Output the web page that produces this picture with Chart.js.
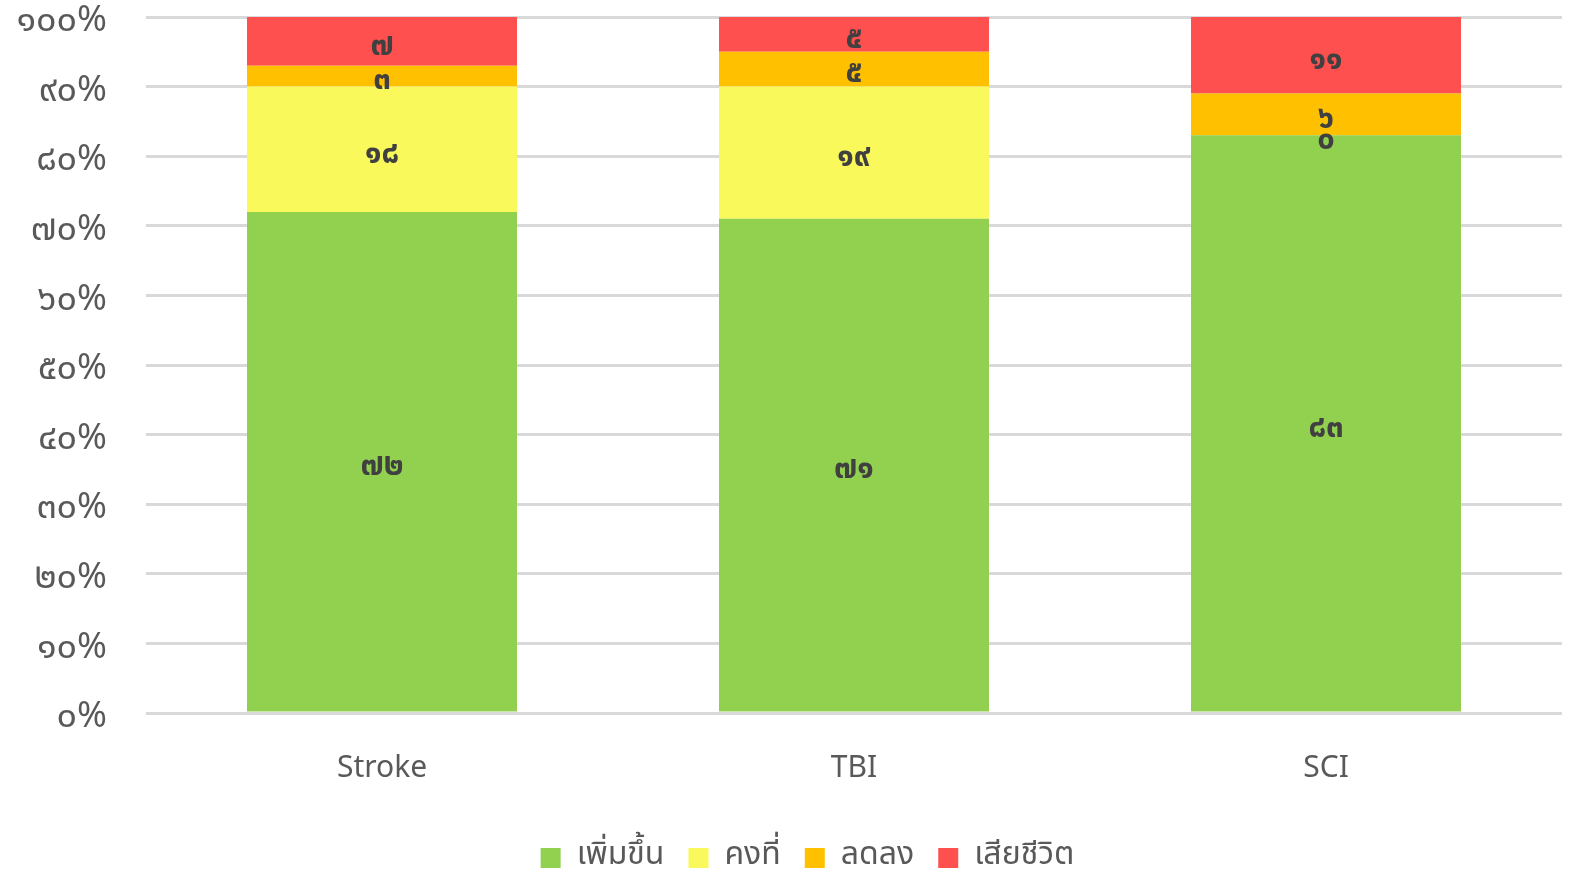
<!DOCTYPE html>
<html>
<head>
<meta charset="utf-8">
<script src="https://cdn.jsdelivr.net/npm/chart.js@4/dist/chart.umd.min.js"></script>
<style>
  html, body { margin: 0; padding: 0; background: #ffffff; }
  #wrap { width: 1574px; height: 874px; position: relative; }
</style>
</head>
<body>
<div id="wrap"><canvas id="c" width="1574" height="874"></canvas></div>
<script>
// Patient groups
const categories = ['Stroke', 'TBI', 'SCI'];

// Outcome series (percent of each group)
const seriesNames = ['เพิ่มขึ้น', 'คงที่', 'ลดลง', 'เสียชีวิต'];
const increased = [72, 71, 83];
const stable    = [18, 19, 0];
const decreased = [3, 5, 6];
const died      = [7, 5, 11];
const seriesColors = ['#92d050', '#f9f95b', '#ffc000', '#ff5050'];

// Y-axis tick values (percent)
const yTicks = [0, 10, 20, 30, 40, 50, 60, 70, 80, 90, 100];

const thaiDigits = ['๐','๑','๒','๓','๔','๕','๖','๗','๘','๙'];
function toThai(n) {
  return String(n).replace(/[0-9]/g, d => thaiDigits[+d]);
}

const FONT = "'Noto Sans Thai', 'Noto Sans', 'DejaVu Sans', sans-serif";

// Draws the value of each segment, in Thai numerals, at the segment centre
// (Thai digits sit high in the em box, so the text is nudged down a little)
const segmentLabels = {
  id: 'segmentLabels',
  afterDatasetsDraw(chart) {
    const ctx = chart.ctx;
    ctx.save();
    ctx.fillStyle = '#404040';
    ctx.font = "bold 31px " + FONT;
    ctx.textAlign = 'center';
    ctx.textBaseline = 'middle';
    chart.data.datasets.forEach((ds, i) => {
      const meta = chart.getDatasetMeta(i);
      meta.data.forEach((bar, j) => {
        const v = ds.data[j];
        const p = bar.getProps(['x', 'y', 'base'], true);
        const cy = (p.y + p.base) / 2 + 7;
        ctx.fillText(toThai(v), p.x, cy);
      });
    });
    ctx.restore();
  }
};

// Centres the legend row under the plot area rather than the whole canvas
const legendShift = {
  id: 'legendShift',
  afterLayout(chart) {
    const lg = chart.legend;
    if (!lg) return;
    lg.left += 18; lg.right += 18;
    lg.top -= 3; lg.bottom -= 3;
  }
};

const datasets = [increased, stable, decreased, died].map((vals, i) => ({
  label: seriesNames[i],
  data: vals,
  backgroundColor: seriesColors[i],
  borderWidth: 0,
  barPercentage: 0.572,
  categoryPercentage: 1.0
}));

new Chart(document.getElementById('c'), {
  type: 'bar',
  data: { labels: categories, datasets },
  options: {
    responsive: false,
    animation: false,
    devicePixelRatio: 1,
    layout: { padding: { top: 17, right: 12, bottom: -13, left: 17 } },
    plugins: {
      legend: {
        position: 'bottom',
        labels: {
          color: '#595959',
          font: { family: FONT, size: 32 },
          boxWidth: 20,
          boxHeight: 20,
          padding: 24
        }
      },
      tooltip: { enabled: false }
    },
    scales: {
      x: {
        stacked: true,
        grid: { display: false },
        border: { display: false },
        ticks: { color: '#595959', font: { family: FONT, size: 30 }, padding: 32 }
      },
      y: {
        stacked: true,
        min: 0,
        max: 100,
        afterBuildTicks(axis) { axis.ticks = yTicks.map(v => ({ value: v })); },
        afterFit(axis) { axis.paddingTop = 0; axis.paddingBottom = 0; axis.width = 129; },
        grid: { color: '#d9d9d9', lineWidth: 3, drawTicks: false },
        border: { display: false },
        ticks: {
          color: '#595959',
          font: { family: FONT, size: 36 },
          padding: 39,
          labelOffset: 7,
          callback: v => toThai(v) + '%'
        }
      }
    }
  },
  plugins: [segmentLabels, legendShift]
});
</script>
</body>
</html>
